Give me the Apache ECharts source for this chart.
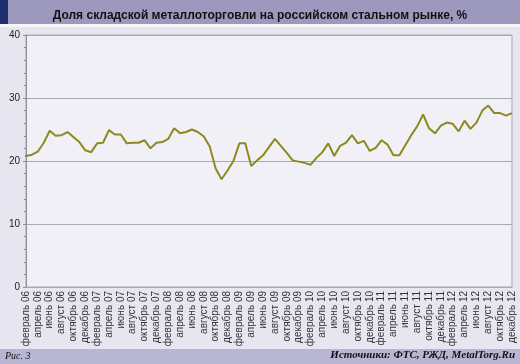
<!DOCTYPE html>
<html><head><meta charset="utf-8">
<script src="https://cdn.jsdelivr.net/npm/echarts@6/dist/echarts.min.js"></script>
<style>html,body{margin:0;padding:0;background:#e6e5f0;}#c{width:520px;height:364px;}</style>
</head><body><div id="c"></div>
<script>
const months = ['январь','февраль','март','апрель','май','июнь','июль','август','сентябрь','октябрь','ноябрь','декабрь'];
const years = ['06','07','08','09','10','11','12'];
const categories = [];
years.forEach(y => months.forEach(m => categories.push(m + ' ' + y)));
const share2006 = [20.8,20.8,21.0,21.5,22.9,24.8,24.0,24.1,24.6,23.8,23.0,21.7];
const share2007 = [21.4,22.8,22.9,24.9,24.2,24.2,22.8,22.9,22.9,23.3,22.0,22.9];
const share2008 = [23.0,23.5,25.2,24.4,24.6,25.0,24.6,23.9,22.3,18.8,17.1,18.5];
const share2009 = [20.0,22.8,22.8,19.2,20.1,20.9,22.2,23.5,22.4,21.3,20.1,19.9];
const share2010 = [19.7,19.4,20.5,21.4,22.8,20.8,22.4,22.9,24.1,22.8,23.2,21.6];
const share2011 = [22.1,23.3,22.6,20.9,20.9,22.5,24.1,25.5,27.4,25.2,24.4,25.6];
const share2012 = [26.1,25.9,24.7,26.4,25.1,26.1,28.0,28.8,27.6,27.6,27.2,27.6];
const values = [].concat(share2006,share2007,share2008,share2009,share2010,share2011,share2012);
const yTicks = [0,10,20,30,40];

const chart = echarts.init(document.getElementById('c'), null, {renderer:'canvas'});
chart.setOption({
  backgroundColor: '#e6e5f0',
  animation: false,
  graphic: [
    {type:'rect', shape:{x:0,y:0,width:520,height:24}, style:{fill:'#9d99be'}, z:0},
    {type:'rect', shape:{x:0,y:0,width:8,height:24}, style:{fill:'#1f2e6e'}, z:1},
    {type:'rect', shape:{x:0,y:24,width:520,height:3}, style:{fill:'#f6f6fa'}, z:0},
    {type:'rect', shape:{x:0,y:349,width:520,height:15}, style:{fill:'#b8b6d3'}, z:0},
    {type:'text', left:5, top:351, style:{text:'Рис. 3', font:'italic 10px "Liberation Serif", serif', fill:'#111'}, z:2},
    {type:'text', right:5, top:350, style:{text:'Источники: ФТС, РЖД, MetalTorg.Ru', font:'italic bold 11px "Liberation Serif", serif', fill:'#111'}, z:2}
  ],
  title: {
    text: 'Доля складской металлоторговли на российском стальном рынке, %',
    left: 'center', top: 5,
    textStyle: {fontFamily:'"Liberation Sans", Arial, sans-serif', fontWeight:'bold', fontSize:12, color:'#111'}
  },
  grid: {left:26, right:8, top:35, bottom:77, show:true, backgroundColor:'#f1f0f7', borderColor:'#a9a9b2', borderWidth:1},
  xAxis: {
    type:'category', data:categories, boundaryGap:false, min:1,
    axisLine:{show:true, lineStyle:{color:'#a9a9b2'}},
    axisTick:{show:false},
    splitLine:{show:false},
    axisLabel:{rotate:90, interval:(i)=> i % 2 === 1, fontSize:10, color:'#333', margin:4,
      fontFamily:'"Liberation Sans", Arial, sans-serif'}
  },
  yAxis: {
    type:'value', min:yTicks[0], max:yTicks[yTicks.length-1], interval:10,
    axisLine:{show:true, lineStyle:{color:'#8e8e98'}},
    axisTick:{show:true, length:3, lineStyle:{color:'#8e8e98'}},
    minorTick:{show:true, splitNumber:5, length:2, lineStyle:{color:'#8e8e98'}},
    splitLine:{show:true, lineStyle:{color:'#a9a9b2', width:1}},
    axisLabel:{fontSize:10, color:'#222', margin:6, fontFamily:'"Liberation Sans", Arial, sans-serif'}
  },
  series: [{
    type:'line', data:values, symbol:'none', clip:false,
    lineStyle:{color:'#8c8a1e', width:2}
  }]
});
</script></body></html>
